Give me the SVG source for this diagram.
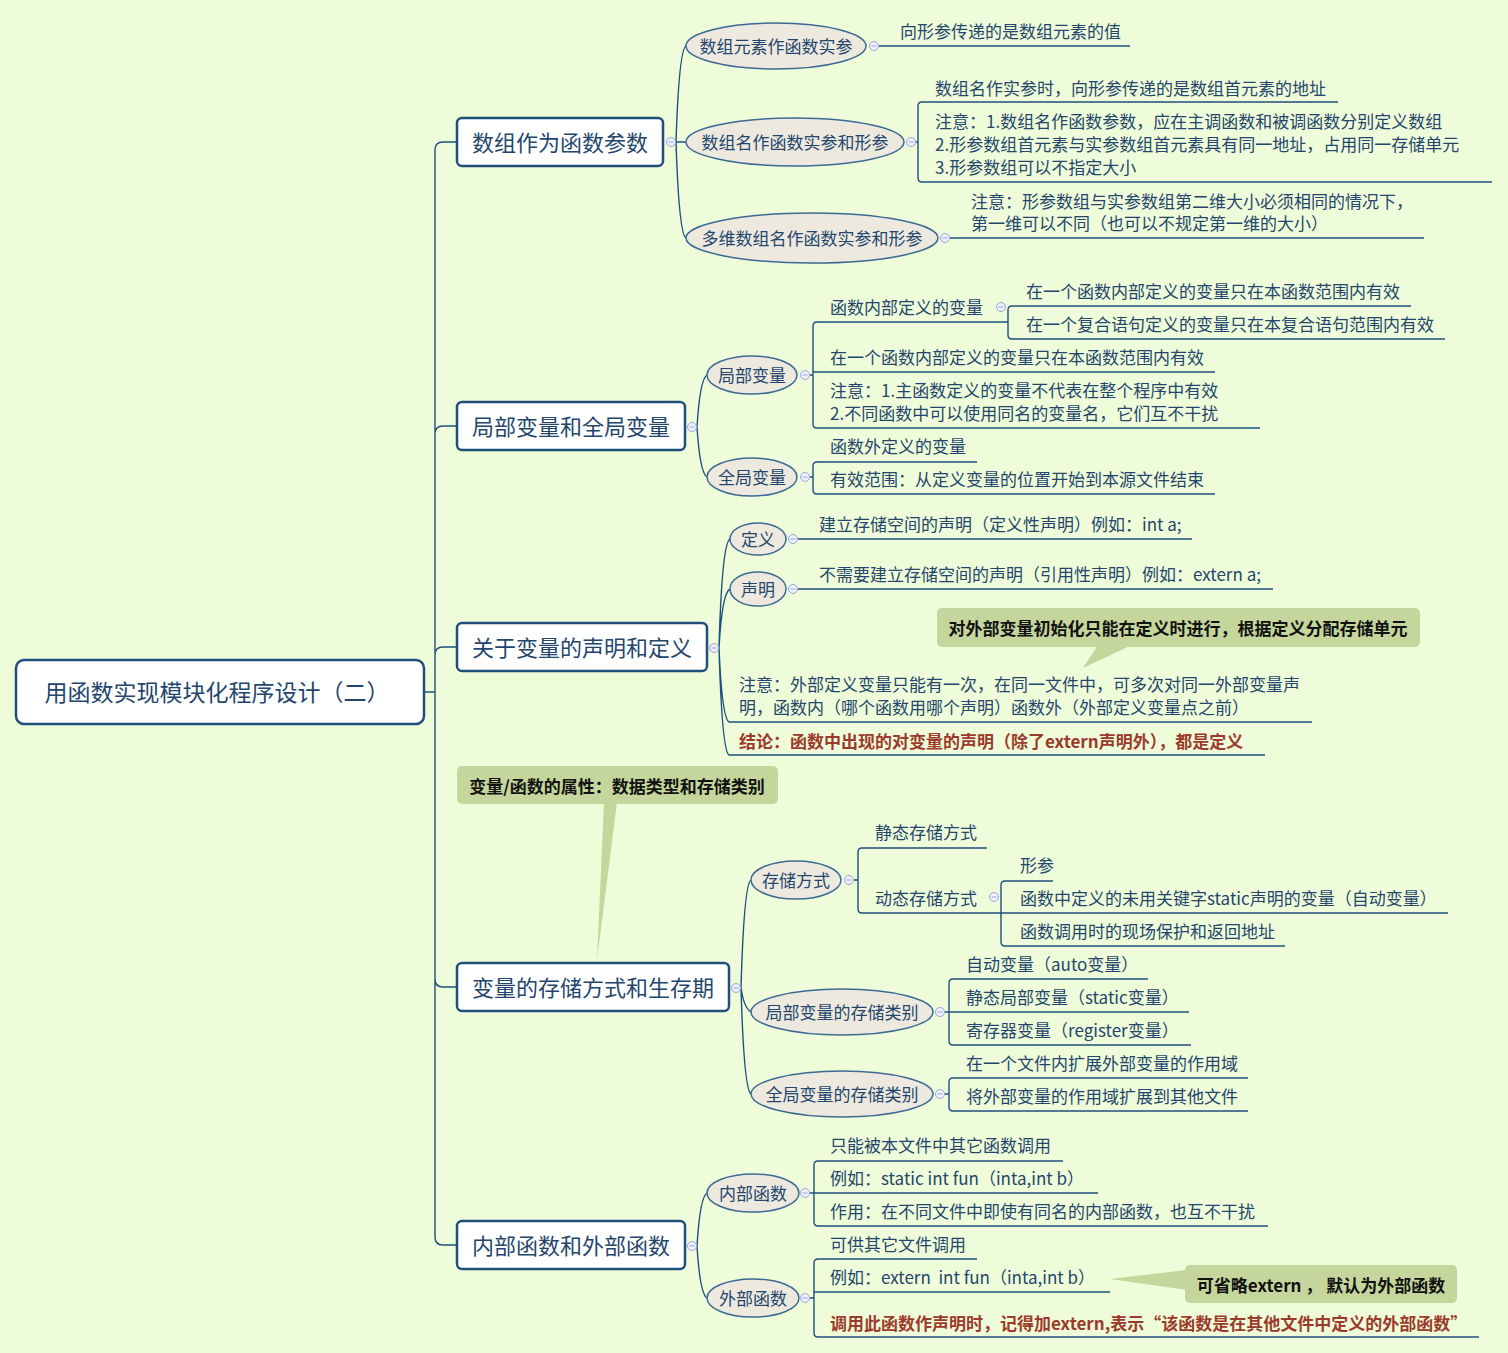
<svg xmlns="http://www.w3.org/2000/svg" xmlns:xlink="http://www.w3.org/1999/xlink" width="1508" height="1353" viewBox="0 0 1508 1353">
<style>
text{font-family:"Noto Sans CJK SC","Noto Sans",sans-serif;fill:#24466d;dominant-baseline:central;white-space:pre;transform:translateY(-1px)}
.main{font-size:22px;text-anchor:middle}
.rootT{font-size:23px;text-anchor:middle}
.sub{font-size:17px;text-anchor:middle}
.leaf{font-size:17px}
.red{font-size:17px;font-weight:bold;fill:#9c3a2c}
.cal{font-size:17px;font-weight:bold;fill:#111;text-anchor:middle}
.box{fill:#fff;stroke:#1f4f7c;stroke-width:2.5}
.ell{fill:#ede9df;stroke:#3b6a94;stroke-width:1.5}
.ln{fill:none;stroke:#1f4f7c;stroke-width:1.4}
.cb{fill:#c5d69c}
.cc{fill:#eef0ff;stroke:#9aa6dc;stroke-width:1}
.cm{stroke:#9aa6dc;stroke-width:1}
</style>
<defs>
<g id="col"><circle class="cc" cx="0" cy="0" r="4.5"/><line class="cm" x1="-2.5" y1="0" x2="2.5" y2="0"/></g>
</defs>
<rect width="1508" height="1353" fill="#effcd9"/>

<g id="connectors">
<path class="ln" d="M424,692 H435 M435,692 V150 Q435,142 443,142 H457 M435,434 Q435,426 443,426 H457 M435,655 Q435,647 443,647 H457 M435,692 V1237 Q435,1245 443,1245 H457 M435,979 Q435,987 443,987 H457"/>
<path class="ln" d="M676,142 Q679,50 686,46 M676,142 H686 M676,142 Q679,234 686,238"/>
<path class="ln" d="M879,46 H1130"/>
<path class="ln" d="M916,142 H918 M1338,102 H922 Q918,102 918,106 V178 Q918,182 922,182 H1492"/>
<path class="ln" d="M950,238 H1424"/>
<path class="ln" d="M697,427 Q700,379 707,375 M697,427 Q700,473 707,477"/>
<path class="ln" d="M810,375 H813 M1008,322 H817 Q813,322 813,326 V424 Q813,428 817,428 H1260 M813,372 H1215"/>
<path class="ln" d="M1411,306 H1012 Q1008,306 1008,310 V335 Q1008,339 1012,339 H1445"/>
<path class="ln" d="M810,477 H813 M977,462 H817 Q813,462 813,466 V490 Q813,494 817,494 H1215"/>
<path class="ln" d="M719,648 Q722,543 730,539 M719,648 Q722,593 730,589 M719,648 Q722,718 729,722 H1312 M719,648 Q722,751 729,755 H1265"/>
<path class="ln" d="M798,539 H1192 M798,589 H1273"/>
<path class="ln" d="M741,988 Q744,884 751,880 M741,988 Q744,1008 751,1012 M741,988 Q744,1090 751,1094"/>
<path class="ln" d="M854,880 H858 M987,848 H862 Q858,848 858,852 V909 Q858,913 862,913 H1448"/>
<path class="ln" d="M1053,881 H1005 Q1001,881 1001,885 V942 Q1001,946 1005,946 H1285"/>
<path class="ln" d="M945,1012 H949 M1148,979 H953 Q949,979 949,983 V1041 Q949,1045 953,1045 H1191 M949,1012 H1189"/>
<path class="ln" d="M945,1094 H949 M1248,1078 H953 Q949,1078 949,1082 V1107 Q949,1111 953,1111 H1248"/>
<path class="ln" d="M697,1246 Q700,1197 707,1193 M697,1246 Q700,1294 707,1298"/>
<path class="ln" d="M810,1193 H814 M1063,1161 H818 Q814,1161 814,1165 V1222 Q814,1226 818,1226 H1268 M814,1193 H1098"/>
<path class="ln" d="M810,1298 H814 M977,1259 H818 Q814,1259 814,1263 V1333 Q814,1337 818,1337 H1479 M814,1292 H1110"/>
</g>

<g id="root">
<rect class="box" x="16" y="660" width="408" height="64" rx="8"/>
<text class="rootT" x="217" y="692">用函数实现模块化程序设计（二）</text>
</g>

<g id="t1">
<rect class="box" x="457" y="118" width="206" height="48" rx="5"/>
<text class="main" x="560" y="142">数组作为函数参数</text>
<use xlink:href="#col" x="671" y="142"/>
</g>
<g id="t1a">
<ellipse class="ell" cx="776" cy="46" rx="90" ry="23"/>
<text class="sub" x="776" y="46">数组元素作函数实参</text>
<use xlink:href="#col" x="874" y="46"/>
<text class="leaf" x="900" y="31">向形参传递的是数组元素的值</text>
</g>
<g id="t1b">
<ellipse class="ell" cx="795" cy="142" rx="109" ry="24"/>
<text class="sub" x="795" y="142">数组名作函数实参和形参</text>
<use xlink:href="#col" x="911" y="142"/>
<text class="leaf" x="935" y="88">数组名作实参时，向形参传递的是数组首元素的地址</text>
<text class="leaf" x="935" y="121">注意：1.数组名作函数参数，应在主调函数和被调函数分别定义数组</text>
<text class="leaf" x="935" y="144">2.形参数组首元素与实参数组首元素具有同一地址，占用同一存储单元</text>
<text class="leaf" x="935" y="167">3.形参数组可以不指定大小</text>
</g>
<g id="t1c">
<ellipse class="ell" cx="812" cy="238" rx="126" ry="25"/>
<text class="sub" x="812" y="238">多维数组名作函数实参和形参</text>
<use xlink:href="#col" x="945" y="238"/>
<text class="leaf" x="971" y="201">注意：形参数组与实参数组第二维大小必须相同的情况下，</text>
<text class="leaf" x="971" y="223">第一维可以不同（也可以不规定第一维的大小）</text>
</g>

<g id="t2">
<rect class="box" x="457" y="402" width="228" height="48" rx="5"/>
<text class="main" x="571" y="426">局部变量和全局变量</text>
<use xlink:href="#col" x="692" y="427"/>
</g>
<g id="t2a">
<ellipse class="ell" cx="752" cy="375" rx="45" ry="19"/>
<text class="sub" x="752" y="375">局部变量</text>
<use xlink:href="#col" x="805" y="375"/>
<text class="leaf" x="830" y="307">函数内部定义的变量</text>
<use xlink:href="#col" x="1001" y="307"/>
<text class="leaf" x="1026" y="291">在一个函数内部定义的变量只在本函数范围内有效</text>
<text class="leaf" x="1026" y="324">在一个复合语句定义的变量只在本复合语句范围内有效</text>
<text class="leaf" x="830" y="357">在一个函数内部定义的变量只在本函数范围内有效</text>
<text class="leaf" x="830" y="390">注意：1.主函数定义的变量不代表在整个程序中有效</text>
<text class="leaf" x="830" y="413">2.不同函数中可以使用同名的变量名，它们互不干扰</text>
</g>
<g id="t2b">
<ellipse class="ell" cx="752" cy="477" rx="45" ry="19"/>
<text class="sub" x="752" y="477">全局变量</text>
<use xlink:href="#col" x="805" y="477"/>
<text class="leaf" x="830" y="446">函数外定义的变量</text>
<text class="leaf" x="830" y="479">有效范围：从定义变量的位置开始到本源文件结束</text>
</g>

<g id="t3">
<rect class="box" x="457" y="623" width="250" height="48" rx="5"/>
<text class="main" x="582" y="647">关于变量的声明和定义</text>
<use xlink:href="#col" x="714" y="648"/>
</g>
<g id="t3a">
<ellipse class="ell" cx="758" cy="539" rx="28" ry="16"/>
<text class="sub" x="758" y="539">定义</text>
<use xlink:href="#col" x="793" y="539"/>
<text class="leaf" x="819" y="524">建立存储空间的声明（定义性声明）例如：int a;</text>
</g>
<g id="t3b">
<ellipse class="ell" cx="758" cy="589" rx="28" ry="17"/>
<text class="sub" x="758" y="589">声明</text>
<use xlink:href="#col" x="793" y="589"/>
<text class="leaf" x="819" y="574">不需要建立存储空间的声明（引用性声明）例如：extern a;</text>
</g>
<g id="t3c">
<text class="leaf" x="739" y="684">注意：外部定义变量只能有一次，在同一文件中，可多次对同一外部变量声</text>
<text class="leaf" x="739" y="707">明，函数内（哪个函数用哪个声明）函数外（外部定义变量点之前）</text>
<text class="red" x="739" y="741">结论：函数中出现的对变量的声明（除了extern声明外），都是定义</text>
</g>
<g id="callout1">
<polygon class="cb" points="1098,645 1132,645 1083,668"/>
<rect class="cb" x="937" y="608" width="483" height="39" rx="5"/>
<text class="cal" x="1178" y="628">对外部变量初始化只能在定义时进行，根据定义分配存储单元</text>
</g>

<g id="callout2">
<polygon class="cb" points="604,802 617,802 597,960"/>
<rect class="cb" x="457" y="766" width="321" height="38" rx="5"/>
<text class="cal" x="617" y="786">变量/函数的属性：数据类型和存储类别</text>
</g>

<g id="t4">
<rect class="box" x="457" y="963" width="272" height="48" rx="5"/>
<text class="main" x="593" y="987">变量的存储方式和生存期</text>
<use xlink:href="#col" x="736" y="988"/>
</g>
<g id="t4a">
<ellipse class="ell" cx="796" cy="880" rx="45" ry="19"/>
<text class="sub" x="796" y="880">存储方式</text>
<use xlink:href="#col" x="849" y="880"/>
<text class="leaf" x="875" y="832">静态存储方式</text>
<text class="leaf" x="875" y="898">动态存储方式</text>
<use xlink:href="#col" x="994" y="897"/>
<text class="leaf" x="1020" y="865">形参</text>
<text class="leaf" x="1020" y="898">函数中定义的未用关键字static声明的变量（自动变量）</text>
<text class="leaf" x="1020" y="931">函数调用时的现场保护和返回地址</text>
</g>
<g id="t4b">
<ellipse class="ell" cx="842" cy="1012" rx="91" ry="23"/>
<text class="sub" x="842" y="1012">局部变量的存储类别</text>
<use xlink:href="#col" x="940" y="1012"/>
<text class="leaf" x="966" y="964">自动变量（auto变量）</text>
<text class="leaf" x="966" y="997">静态局部变量（static变量）</text>
<text class="leaf" x="966" y="1030">寄存器变量（register变量）</text>
</g>
<g id="t4c">
<ellipse class="ell" cx="842" cy="1094" rx="91" ry="23"/>
<text class="sub" x="842" y="1094">全局变量的存储类别</text>
<use xlink:href="#col" x="940" y="1094"/>
<text class="leaf" x="966" y="1063">在一个文件内扩展外部变量的作用域</text>
<text class="leaf" x="966" y="1096">将外部变量的作用域扩展到其他文件</text>
</g>

<g id="t5">
<rect class="box" x="457" y="1221" width="228" height="48" rx="5"/>
<text class="main" x="571" y="1245">内部函数和外部函数</text>
<use xlink:href="#col" x="692" y="1246"/>
</g>
<g id="t5a">
<ellipse class="ell" cx="753" cy="1193" rx="46" ry="19"/>
<text class="sub" x="753" y="1193">内部函数</text>
<use xlink:href="#col" x="805" y="1193"/>
<text class="leaf" x="830" y="1145">只能被本文件中其它函数调用</text>
<text class="leaf" x="830" y="1178">例如：static int fun（inta,int b）</text>
<text class="leaf" x="830" y="1211">作用：在不同文件中即使有同名的内部函数，也互不干扰</text>
</g>
<g id="t5b">
<ellipse class="ell" cx="753" cy="1298" rx="46" ry="19"/>
<text class="sub" x="753" y="1298">外部函数</text>
<use xlink:href="#col" x="805" y="1298"/>
<text class="leaf" x="830" y="1244">可供其它文件调用</text>
<text class="leaf" x="830" y="1277">例如：extern  int fun（inta,int b）</text>
<text class="red" x="830" y="1323">调用此函数作声明时，记得加extern,表示“该函数是在其他文件中定义的外部函数”</text>
</g>
<g id="callout3">
<polygon class="cb" points="1187,1270 1187,1290 1110,1279"/>
<rect class="cb" x="1185" y="1265" width="272" height="38" rx="5"/>
<text class="cal" x="1321" y="1285">可省略extern ， 默认为外部函数</text>
</g>
</svg>
